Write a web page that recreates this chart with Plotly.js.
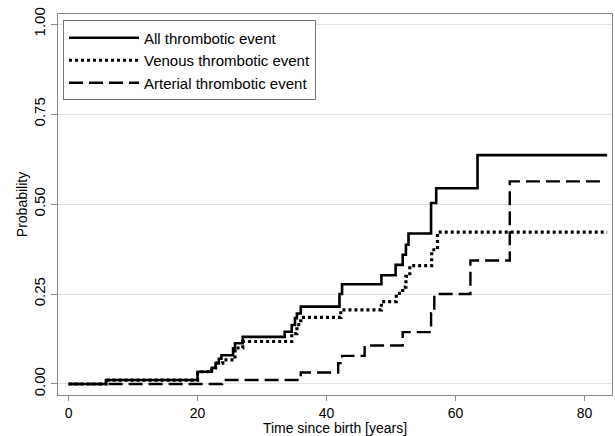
<!DOCTYPE html>
<html>
<head>
<meta charset="utf-8">
<script src="https://cdn.plot.ly/plotly-3.0.1.min.js"></script>
<style>html,body{margin:0;padding:0;background:#fff;}#chart{width:615px;height:436px;}</style>
</head>
<body>
<div id="chart"></div>
<script>
// Step-function estimates
const allYears   = [0, 5.8, 20.0, 22.2, 22.8, 23.3, 23.7, 25.5, 25.8, 27.0, 33.5, 34.6, 35.1, 35.4, 36.0, 42.0, 42.4, 48.5, 50.7, 51.8, 52.3, 52.7, 56.2, 57.0, 63.4, 83.5];
const allProb    = [0, 0.011, 0.034, 0.045, 0.058, 0.07, 0.08, 0.099, 0.113, 0.131, 0.145, 0.164, 0.183, 0.196, 0.215, 0.25, 0.277, 0.302, 0.331, 0.359, 0.387, 0.418, 0.503, 0.544, 0.636, 0.636];

const venYears   = [0, 5.8, 20.0, 22.2, 22.8, 23.9, 25.8, 27.0, 34.6, 35.4, 36.0, 42.2, 48.5, 50.8, 51.8, 52.3, 52.9, 56.3, 57.2, 83.5];
const venProb    = [0, 0.011, 0.034, 0.045, 0.058, 0.067, 0.10, 0.118, 0.14, 0.165, 0.185, 0.206, 0.229, 0.252, 0.269, 0.299, 0.329, 0.373, 0.422, 0.422];

const artYears   = [0, 23.8, 36.0, 41.8, 42.4, 45.9, 51.8, 56.2, 56.7, 62.3, 68.4, 83.2];
const artProb    = [0, 0.011, 0.032, 0.058, 0.078, 0.107, 0.144, 0.197, 0.25, 0.343, 0.563, 0.563];

const seriesNames = ["All thrombotic event", "Venous thrombotic event", "Arterial thrombotic event"];
const yTicks = [0, 0.25, 0.5, 0.75, 1];
const yTickText = ["0.00", "0.25", "0.50", "0.75", "1.00"];
const xTicks = [0, 20, 40, 60, 80];

const font = "Liberation Sans, Arial, Helvetica, sans-serif";

const traces = [
  {x: allYears, y: allProb, name: seriesNames[0], mode: "lines", legendgroup: "a",
   line: {shape: "hv", color: "#000", width: 2.6, dash: "solid"}},
  {x: venYears, y: venProb, name: seriesNames[1], mode: "lines", legendgroup: "v",
   line: {shape: "hv", color: "#000", width: 3.2, dash: "3px,3px"}},
  {x: artYears, y: artProb, name: seriesNames[2], mode: "lines", legendgroup: "r",
   line: {shape: "hv", color: "#000", width: 2.4, dash: "14px,6px"}}
];

const layout = {
  width: 615, height: 436,
  margin: {l: 58, r: 3, t: 14, b: 41},
  paper_bgcolor: "#fff", plot_bgcolor: "#fff",
  font: {family: font, size: 14, color: "#000"},
  showlegend: true,
  legend: {x: 0.009, y: 0.983, xanchor: "left", yanchor: "top",
           bordercolor: "#777", borderwidth: 1, bgcolor: "#fff",
           itemwidth: 70, tracegroupgap: 0,
           font: {family: font, size: 15, color: "#000"}},
  xaxis: {
    range: [-1.64, 84.25], tickvals: xTicks, ticktext: xTicks.map(String),
    ticks: "outside", ticklen: 5, tickcolor: "#888", showgrid: false, zeroline: false,
    showline: true, linecolor: "#888", linewidth: 1, mirror: true,
    tickfont: {family: font, size: 14},
    title: {text: "Time since birth [years]", font: {family: font, size: 14}, standoff: 4}
  },
  yaxis: {
    range: [-0.0306, 1.028], tickvals: yTicks, ticktext: yTickText, tickangle: -90,
    ticks: "outside", ticklen: 6, tickcolor: "#888", showgrid: true, gridcolor: "#e2e2e2",
    zeroline: false, showline: true, linecolor: "#888", linewidth: 1, mirror: true,
    tickfont: {family: font, size: 15},
    title: {text: "Probability", font: {family: font, size: 14}, standoff: 0}
  }
};

Plotly.newPlot("chart", traces, layout, {displayModeBar: false, staticPlot: true});
</script>
</body>
</html>
